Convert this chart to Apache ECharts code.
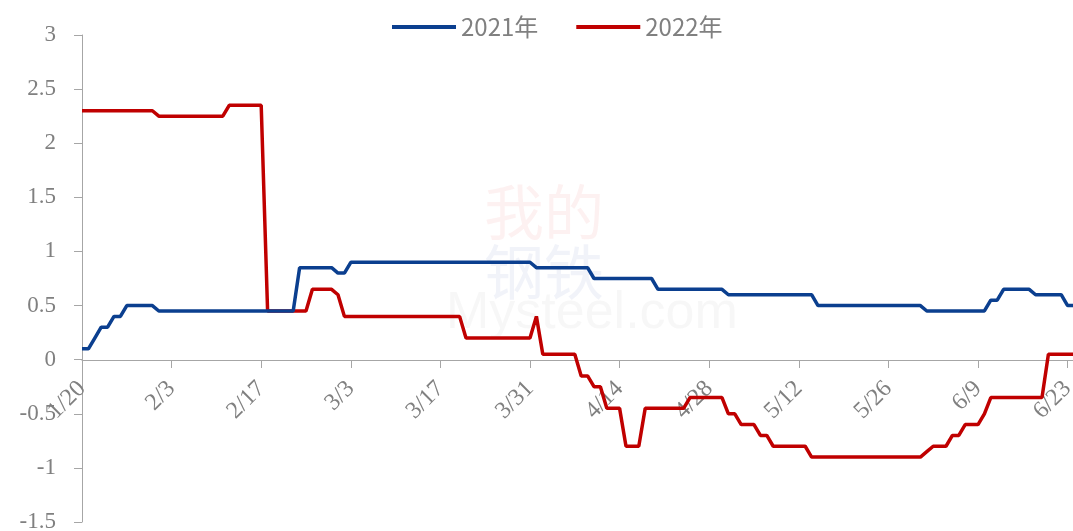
<!DOCTYPE html>
<html>
<head>
<meta charset="utf-8">
<script src="https://cdn.jsdelivr.net/npm/echarts@6/dist/echarts.min.js"></script>
<style>
  html, body { margin: 0; padding: 0; background: #fff; }
  #chart { width: 1073px; height: 531px; }
</style>
</head>
<body>
<div id="chart"></div>
<script>
// daily dates, 1/20 .. 6/24
var dates = [
  '1/20','1/21','1/22','1/23','1/24','1/25','1/26','1/27','1/28','1/29','1/30','1/31',
  '2/1','2/2','2/3','2/4','2/5','2/6','2/7','2/8','2/9','2/10','2/11','2/12','2/13','2/14',
  '2/15','2/16','2/17','2/18','2/19','2/20','2/21','2/22','2/23','2/24','2/25','2/26','2/27','2/28',
  '3/1','3/2','3/3','3/4','3/5','3/6','3/7','3/8','3/9','3/10','3/11','3/12','3/13','3/14','3/15','3/16',
  '3/17','3/18','3/19','3/20','3/21','3/22','3/23','3/24','3/25','3/26','3/27','3/28','3/29','3/30','3/31',
  '4/1','4/2','4/3','4/4','4/5','4/6','4/7','4/8','4/9','4/10','4/11','4/12','4/13','4/14','4/15',
  '4/16','4/17','4/18','4/19','4/20','4/21','4/22','4/23','4/24','4/25','4/26','4/27','4/28','4/29','4/30',
  '5/1','5/2','5/3','5/4','5/5','5/6','5/7','5/8','5/9','5/10','5/11','5/12','5/13','5/14','5/15','5/16',
  '5/17','5/18','5/19','5/20','5/21','5/22','5/23','5/24','5/25','5/26','5/27','5/28','5/29','5/30','5/31',
  '6/1','6/2','6/3','6/4','6/5','6/6','6/7','6/8','6/9','6/10','6/11','6/12','6/13','6/14','6/15','6/16',
  '6/17','6/18','6/19','6/20','6/21','6/22','6/23','6/24'
];

var seriesNames = ['2021年', '2022年'];

var values2021 = [
  0.1,0.1,0.2,0.3,0.3,0.4,0.4,0.5,0.5,0.5,
  0.5,0.5,0.45,0.45,0.45,0.45,0.45,0.45,0.45,0.45,
  0.45,0.45,0.45,0.45,0.45,0.45,0.45,0.45,0.45,0.45,
  0.45,0.45,0.45,0.45,0.85,0.85,0.85,0.85,0.85,0.85,
  0.8,0.8,0.9,0.9,0.9,0.9,0.9,0.9,0.9,0.9,
  0.9,0.9,0.9,0.9,0.9,0.9,0.9,0.9,0.9,0.9,
  0.9,0.9,0.9,0.9,0.9,0.9,0.9,0.9,0.9,0.9,
  0.9,0.85,0.85,0.85,0.85,0.85,0.85,0.85,0.85,0.85,
  0.75,0.75,0.75,0.75,0.75,0.75,0.75,0.75,0.75,0.75,
  0.65,0.65,0.65,0.65,0.65,0.65,0.65,0.65,0.65,0.65,
  0.65,0.6,0.6,0.6,0.6,0.6,0.6,0.6,0.6,0.6,
  0.6,0.6,0.6,0.6,0.6,0.5,0.5,0.5,0.5,0.5,
  0.5,0.5,0.5,0.5,0.5,0.5,0.5,0.5,0.5,0.5,
  0.5,0.5,0.45,0.45,0.45,0.45,0.45,0.45,0.45,0.45,
  0.45,0.45,0.55,0.55,0.65,0.65,0.65,0.65,0.65,0.6,
  0.6,0.6,0.6,0.6,0.5,0.5
];

var values2022 = [
  2.3,2.3,2.3,2.3,2.3,2.3,2.3,2.3,2.3,2.3,
  2.3,2.3,2.25,2.25,2.25,2.25,2.25,2.25,2.25,2.25,
  2.25,2.25,2.25,2.35,2.35,2.35,2.35,2.35,2.35,0.45,
  0.45,0.45,0.45,0.45,0.45,0.45,0.65,0.65,0.65,0.65,
  0.6,0.4,0.4,0.4,0.4,0.4,0.4,0.4,0.4,0.4,
  0.4,0.4,0.4,0.4,0.4,0.4,0.4,0.4,0.4,0.4,
  0.2,0.2,0.2,0.2,0.2,0.2,0.2,0.2,0.2,0.2,
  0.2,0.4,0.05,0.05,0.05,0.05,0.05,0.05,-0.15,-0.15,
  -0.25,-0.25,-0.45,-0.45,-0.45,-0.8,-0.8,-0.8,-0.45,-0.45,
  -0.45,-0.45,-0.45,-0.45,-0.45,-0.35,-0.35,-0.35,-0.35,-0.35,
  -0.35,-0.5,-0.5,-0.6,-0.6,-0.6,-0.7,-0.7,-0.8,-0.8,
  -0.8,-0.8,-0.8,-0.8,-0.9,-0.9,-0.9,-0.9,-0.9,-0.9,
  -0.9,-0.9,-0.9,-0.9,-0.9,-0.9,-0.9,-0.9,-0.9,-0.9,
  -0.9,-0.9,-0.85,-0.8,-0.8,-0.8,-0.7,-0.7,-0.6,-0.6,
  -0.6,-0.5,-0.35,-0.35,-0.35,-0.35,-0.35,-0.35,-0.35,-0.35,
  -0.35,0.05,0.05,0.05,0.05,0.05
];

var colors = ['#0B3F8F', '#C00000'];
var axisGray = '#a6a6a6';
var labelGray = '#808080';
var serif = '"Times New Roman", "Liberation Serif", serif';

var chart = echarts.init(document.getElementById('chart'));

var option = {
  animation: false,
  color: colors,
  legend: {
    top: 15,
    left: 392,
    padding: 0,
    icon: 'rect',
    itemWidth: 64,
    itemHeight: 4,
    itemGap: 38,
    textStyle: {
      fontSize: 24,
      color: labelGray,
      fontFamily: '"Microsoft YaHei", "Noto Sans CJK SC", sans-serif'
    },
    data: seriesNames
  },
  graphic: [
    { type: 'text', left: 484, top: 182, z: -1, style: { text: '我的', fontSize: 60, fill: 'rgba(220,60,60,0.07)', fontFamily: '"Noto Sans CJK SC", serif' } },
    { type: 'text', left: 484, top: 242, z: -1, style: { text: '钢铁', fontSize: 60, fill: 'rgba(60,90,170,0.07)', fontFamily: '"Noto Sans CJK SC", serif' } },
    { type: 'text', left: 446, top: 288, z: -1, style: { text: 'Mysteel.com', fontSize: 52, fill: 'rgba(120,120,120,0.06)', fontFamily: 'sans-serif' } }
  ],
  grid: {
    left: 82,
    right: -1,
    top: 35,
    bottom: 9,
    outerBoundsMode: 'none'
  },
  xAxis: {
    type: 'category',
    data: dates,
    boundaryGap: false,
    // axis sits on the zero line (grid bottom is at -1.5)
    offset: -162,
    axisLine: { onZero: false, lineStyle: { color: axisGray, width: 1 } },
    axisTick: { show: true, interval: 13, length: 8, lineStyle: { color: axisGray } },
    axisLabel: {
      interval: 13,
      rotate: 45,
      margin: 25,
      fontSize: 24,
      color: labelGray,
      fontFamily: serif
    },
    splitLine: { show: false }
  },
  yAxis: {
    type: 'value',
    min: -1.5,
    max: 3,
    interval: 0.5,
    axisLine: { show: true, lineStyle: { color: axisGray, width: 1 } },
    axisTick: { show: true, length: 8, lineStyle: { color: axisGray } },
    axisLabel: {
      margin: 26,
      fontSize: 23,
      color: labelGray,
      fontFamily: serif
    },
    splitLine: { show: false }
  },
  series: [
    {
      name: seriesNames[0],
      type: 'line',
      data: values2021,
      symbol: 'none',
      lineStyle: { width: 3.5, color: colors[0] },
      itemStyle: { color: colors[0] },
      z: 3
    },
    {
      name: seriesNames[1],
      type: 'line',
      data: values2022,
      symbol: 'none',
      lineStyle: { width: 3.5, color: colors[1] },
      itemStyle: { color: colors[1] },
      z: 2
    }
  ]
};

chart.setOption(option);
</script>
</body>
</html>
